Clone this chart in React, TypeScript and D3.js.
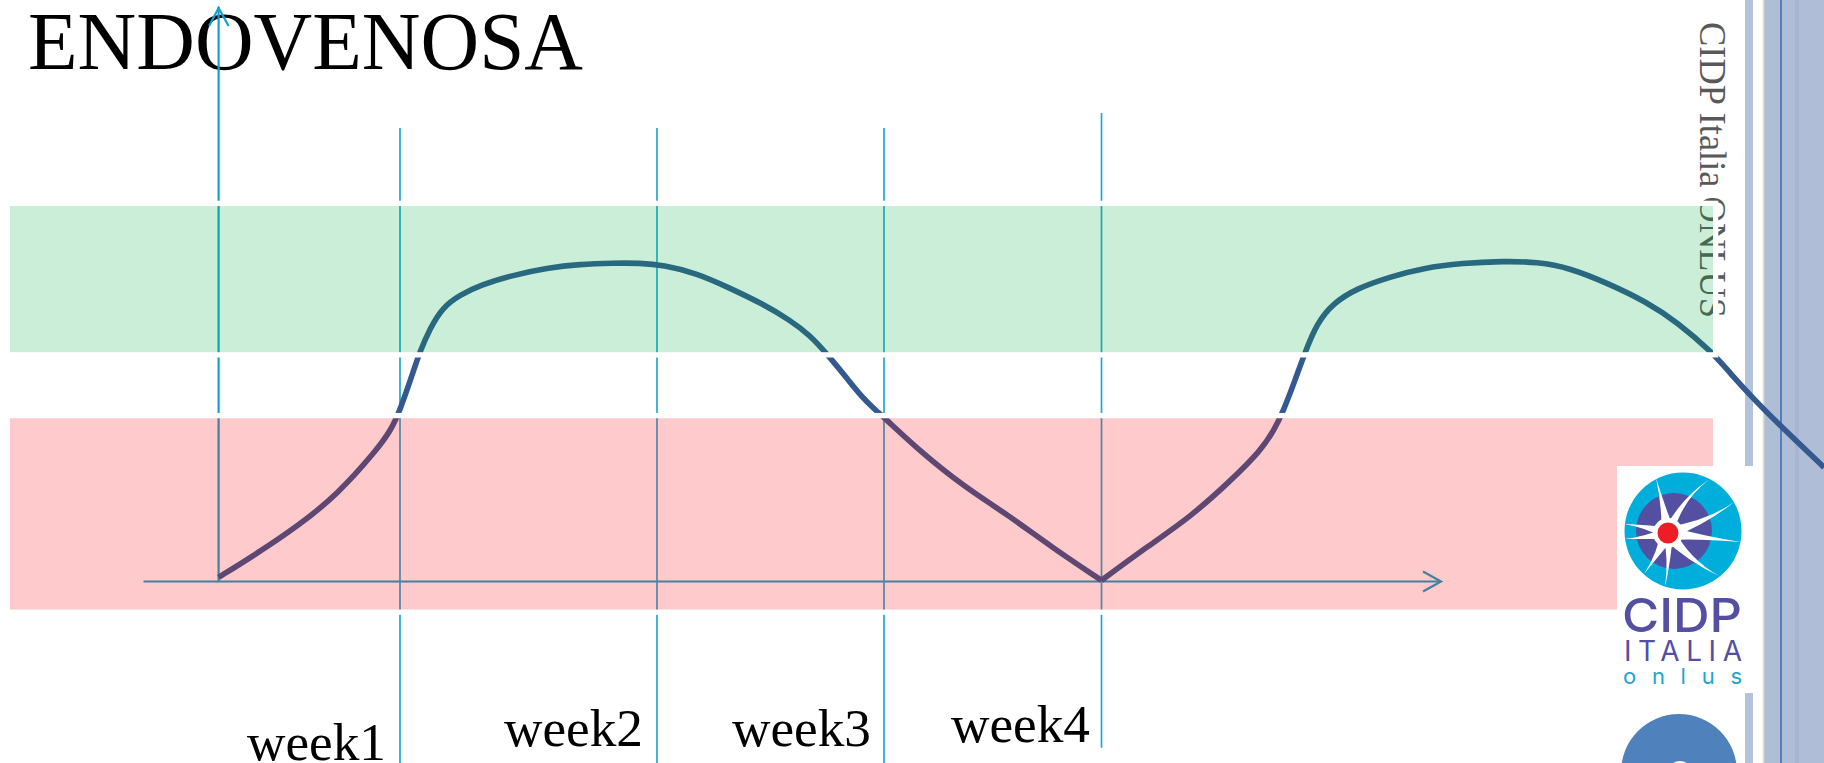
import React from "react";
import * as d3 from "d3";

// ---- data ----
const titleText = "ENDOVENOSA";
const sideText = "CIDP Italia ONLUS";
const weekLabels = ["week1", "week2", "week3", "week4"];
const weekTicks = [1, 2, 3, 4];
const weekTickTopLevels = [120.8, 120.8, 120.8, 124.8];
const weekTickBottomLevels = [-48.5, -48.5, -48.5, -44.3];

// time in weeks, antibody level in % of the therapeutic band top
const curveWeeks = [
  0.0, 0.22, 0.44, 0.65, 0.87, 0.95, 1.0, 1.05, 1.075, 1.117, 1.167, 1.233, 1.311, 1.44, 1.572, 1.7, 1.829, 1.934,
  2.026, 2.176, 2.322, 2.467, 2.586, 2.674, 2.753, 2.837, 2.907, 2.969, 3.0, 3.161, 3.372, 3.561, 3.772, 4.0,
  4.218, 4.407, 4.595, 4.733, 4.793, 4.834, 4.89, 4.936, 4.991, 5.064, 5.175, 5.326, 5.478, 5.662, 5.846, 6.003,
  6.154, 6.324, 6.508, 6.646, 6.807, 6.89, 6.995, 7.133, 7.322,
];
const curveLevels = [
  1.1, 7.7, 14.9, 22.9, 34.9, 40.3, 45.6, 55.5, 60.8, 67.5, 73.1, 76.3, 78.9, 81.6, 83.5, 84.5, 84.8, 84.8,
  84.3, 82.1, 78.1, 73.9, 69.6, 65.6, 60.3, 54.1, 48.8, 45.3, 43.7, 34.9, 25.1, 18.1, 9.1, 0.3,
  9.6, 17.1, 26.9, 34.9, 40.3, 45.1, 53.6, 61.1, 68.8, 74.1, 78.1, 81.1, 83.5, 84.8, 85.3, 85.1,
  83.5, 79.5, 74.4, 69.1, 61.1, 55.5, 48.8, 40.8, 30.4,
];
const cuspWeek = 4;
const greenBandLevels = [61.07, 100];
const redBandLevels = [-7.47, 43.47];
const xAxisWeeks = [-0.414, 5.561];
const yAxisTopLevel = 153.07;

// ---- layout ----
const W = 1824;
const H = 763;
const x = d3.scaleLinear().domain([0, 1, 2, 3, 4]).range([218.6, 400, 657, 884, 1101.5]);
const y = d3.scaleLinear().domain([0, 100]).range([581.5, 206]);
const bandLeft = 10;
const bandRight = 1713;
const halo = 5.3;
const labelPos = [
  { x: 247, y: 760 },
  { x: 504, y: 745.5 },
  { x: 732, y: 746 },
  { x: 951, y: 742 },
];
const serif = "'Liberation Serif', serif";
const lineCol = "#12a2c9";
const curvePoints = curveWeeks.map((w, i) => [x(w), y(curveLevels[i])] as [number, number]);
const cuspIndex = curveWeeks.indexOf(cuspWeek);
const smooth = d3.line().curve(d3.curveBasis);
const curvePath = `${smooth(curvePoints.slice(0, cuspIndex + 1))}${smooth(curvePoints.slice(cuspIndex))}`;

// neuron logo: branch tips, with the control point that bends them
const logoCenter: [number, number] = [1668, 533];
const branches: [number, number, number, number, number][] = [
  [1656, 478, 1664, 508, 7],
  [1710, 479, 1682, 498, 5],
  [1734, 502, 1708, 522, 6],
  [1741, 542, 1700, 537, 7],
  [1719, 576, 1688, 560, 7],
  [1665, 587, 1670, 560, 5],
  [1644, 574, 1660, 552, 8],
  [1624, 524, 1645, 526, 6],
  [1624, 539, 1645, 538, 6],
];
const branchPath = ([tx, ty, cx, cy, w]: [number, number, number, number, number]) => {
  const [ox, oy] = logoCenter;
  const a = Math.atan2(cy - oy, cx - ox) + Math.PI / 2;
  const dx = Math.cos(a) * w;
  const dy = Math.sin(a) * w;
  return `M${ox + dx},${oy + dy}Q${cx + dx * 0.2},${cy + dy * 0.2} ${tx},${ty}Q${cx - dx * 0.2},${cy - dy * 0.2} ${ox - dx},${oy - dy}Z`;
};

export default function App() {
  return (
    <svg width={W} height={H} viewBox={`0 0 ${W} ${H}`} style={{ position: "absolute", left: 0, top: 0, display: "block", background: "#fff" }}>
      <defs>
        <linearGradient id="edge" x1="0" x2="1" y1="0" y2="0">
          <stop offset="0" stopColor="#fff" />
          <stop offset="1" stopColor="#bdbdbd" />
        </linearGradient>
        <clipPath id="logoDisc">
          <circle cx={1683} cy={531} r={58.5} />
        </clipPath>
      </defs>

      {/* slide frame */}
      <rect x={1745} y={0} width={8} height={H} fill="#b3c3dd" />
      <rect x={1762} y={0} width={3} height={H} fill="url(#edge)" />
      <rect x={1765} y={0} width={59} height={H} fill="#b0bdd6" />
      <rect x={1795} y={0} width={4} height={H} fill="#a6b6d2" />
      <rect x={1780} y={0} width={2} height={H} fill="#4f81bd" />

      <text x={28} y={69} fontFamily={serif} fontSize={83} textLength={555} lengthAdjust="spacingAndGlyphs" fill="#000">
        {titleText}
      </text>
      <text transform="translate(1700,22) rotate(90)" fontFamily={serif} fontSize={38} textLength={296} lengthAdjust="spacingAndGlyphs" fill="#595959">
        {sideText}
      </text>

      {/* axes */}
      <line x1={x(0)} x2={x(0)} y1={y(yAxisTopLevel)} y2={y(0)} stroke={lineCol} strokeWidth={2.2} />
      <path d={`M${x(0) - 9.5},26L${x(0)},8L${x(0) + 10},26`} fill="none" stroke={lineCol} strokeWidth={2.2} />
      <line x1={x(xAxisWeeks[0])} x2={x(xAxisWeeks[1])} y1={y(0)} y2={y(0)} stroke={lineCol} strokeWidth={2.2} />
      <path
        d={`M${x(xAxisWeeks[1]) - 18},${y(0) - 10}L${x(xAxisWeeks[1])},${y(0)}L${x(xAxisWeeks[1]) - 18},${y(0) + 10}`}
        fill="none"
        stroke={lineCol}
        strokeWidth={2.2}
      />
      {weekTicks.map((w, i) => (
        <line key={w} x1={x(w)} x2={x(w)} y1={y(weekTickTopLevels[i])} y2={y(weekTickBottomLevels[i])} stroke="#1fa9d2" strokeWidth={1.7} />
      ))}

      <path d={curvePath} fill="none" stroke="#33598f" strokeWidth={5.6} />

      {/* bands lie over the lines and keep a white outline */}
      {[greenBandLevels, redBandLevels].map((b, i) => (
        <g key={i}>
          <rect
            x={bandLeft - halo / 2}
            y={y(b[1]) - halo / 2}
            width={bandRight - bandLeft + halo}
            height={y(b[0]) - y(b[1]) + halo}
            fill="none"
            stroke="#fff"
            strokeWidth={halo}
          />
          <rect
            x={bandLeft}
            y={y(b[1])}
            width={bandRight - bandLeft}
            height={y(b[0]) - y(b[1])}
            fill={i === 0 ? "rgb(0,170,70)" : "rgb(252,9,14)"}
            fillOpacity={i === 0 ? 0.205 : 0.215}
          />
        </g>
      ))}

      {weekLabels.map((t, i) => (
        <text key={t} x={labelPos[i].x} y={labelPos[i].y} fontFamily={serif} fontSize={52} textLength={139} lengthAdjust="spacingAndGlyphs" fill="#000">
          {t}
        </text>
      ))}

      {/* logo */}
      <rect x={1617} y={466} width={136} height={227} fill="#fff" />
      <circle cx={1683} cy={531} r={58.5} fill="#00aedb" />
      <circle cx={1674} cy={531} r={38} fill="#5350a2" />
      <g clipPath="url(#logoDisc)" fill="#fff">
        {branches.map((b, i) => (
          <path key={i} d={branchPath(b)} />
        ))}
        <circle cx={logoCenter[0]} cy={logoCenter[1]} r={15} />
      </g>
      <circle cx={logoCenter[0]} cy={logoCenter[1]} r={10.5} fill="#ee1c25" />
      <text x={1622} y={632} fontFamily="Inter, 'Open Sans', sans-serif" fontSize={46} fontWeight={500} textLength={120} lengthAdjust="spacingAndGlyphs" fill="#5350a2">
        CIDP
      </text>
      <text x={1624} y={661} fontFamily="Inter, 'Open Sans', sans-serif" fontSize={28} fontWeight={400} textLength={118} lengthAdjust="spacing" fill="#5350a2">
        ITALIA
      </text>
      <text x={1623} y={684} fontFamily="Inter, 'Open Sans', sans-serif" fontSize={22} fontWeight={400} textLength={119} lengthAdjust="spacing" fill="#1ea5cf">
        onlus
      </text>

      {/* page-number disc, cut by the page edge */}
      <circle cx={1679} cy={772} r={58} fill="#4f81bd" />
      <ellipse cx={1680} cy={767} rx={9} ry={6} fill="#fff" />
    </svg>
  );
}
